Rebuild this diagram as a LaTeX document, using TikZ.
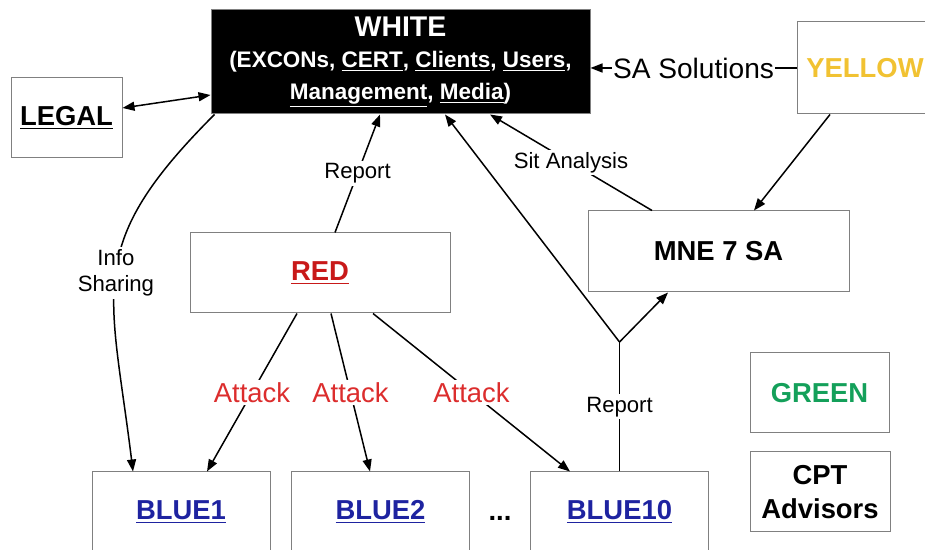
\documentclass[tikz,border=0pt]{standalone}
\usepackage{fontspec}
\setmainfont{Liberation Sans}
\usetikzlibrary{arrows.meta}

\begin{document}
\begin{tikzpicture}[
    box/.style={draw=r128g128b128, line width=0.02cm, inner sep=0pt, align=center,
                font=\fontsize{15.6}{19}\selectfont\bfseries},
    link/.style={line width=0.03cm, -{Triangle[length=0.24cm,width=0.18cm]}},
    tag/.style={fill=white, inner sep=0.05cm, align=center, font=\fontsize{12.6}{15}\selectfont},
    attack/.style={tag, text=r220g45b45, font=\fontsize{15.6}{18}\selectfont},
  ]
                    \useasboundingbox (0,0) rectangle (18.500000,11.000000);
                    \clip (0,0) rectangle (18.500000,11.000000);

                    % Changing colors
                    \definecolor{r128g128b128}{rgb}{0.501961,0.501961,0.501961}%
                    \definecolor{r220g45b45}{rgb}{0.862745,0.176471,0.176471}%
                    \definecolor{r200g25b25}{rgb}{0.784314,0.098039,0.098039}%
                    \definecolor{r241g194b50}{rgb}{0.945098,0.760784,0.196078}%
                    \definecolor{r30g35b160}{rgb}{0.117647,0.137255,0.627451}%
                    \definecolor{r20g160b90}{rgb}{0.078431,0.627451,0.352941}%

                    % Drawing box WHITE
                    \node [box, fill=black, text=white, minimum width=7.580000cm, minimum height=2.080000cm,
                           font=\fontsize{12.8}{18}\selectfont\bfseries] (white) at (8.010000,9.760000)
                          {{\fontsize{16.2}{18}\selectfont WHITE}\\
                           (EXCONs, \underline{CERT}, \underline{Clients}, \underline{Users},\\
                           \underline{Management}, \underline{Media})};%

                    % Drawing box LEGAL
                    \node [box, minimum width=2.220000cm, minimum height=1.600000cm] (legal) at (1.330000,8.640000) {\underline{LEGAL}};%

                    % Drawing box YELLOW
                    \node [box, text=r241g194b50, minimum width=2.720000cm, minimum height=1.840000cm] (yellow) at (17.300000,9.640000) {YELLOW};%

                    % Drawing box MNE 7 SA
                    \node [box, minimum width=5.220000cm, minimum height=1.620000cm] (mne) at (14.370000,5.970000) {MNE 7 SA};%

                    % Drawing box RED
                    \node [box, text=r200g25b25, minimum width=5.200000cm, minimum height=1.600000cm] (red) at (6.400000,5.540000) {\underline{RED}};%

                    % Drawing boxes BLUE
                    \node [box, text=r30g35b160, minimum width=3.560000cm, minimum height=1.600000cm] (blue1) at (3.620000,0.760000) {\underline{BLUE1}};%
                    \node [box, text=r30g35b160, minimum width=3.560000cm, minimum height=1.600000cm] (blue2) at (7.610000,0.760000) {\underline{BLUE2}};%
                    \node [box, text=r30g35b160, minimum width=3.560000cm, minimum height=1.600000cm] (blue10) at (12.390000,0.760000) {\underline{BLUE10}};%
                    \node [font=\fontsize{15.6}{18}\selectfont\bfseries] (dots) at (10.000000,0.640000) {...};%

                    % Drawing boxes GREEN and CPT
                    \node [box, text=r20g160b90, minimum width=2.780000cm, minimum height=1.600000cm] (green) at (16.390000,3.140000) {GREEN};%
                    \node [box, minimum width=2.800000cm, minimum height=1.600000cm] (cpt) at (16.400000,1.160000) {CPT\\Advisors};%

                    % Drawing line LEGAL WHITE
                    \draw [link, {Triangle[length=0.24cm,width=0.18cm]}-{Triangle[length=0.24cm,width=0.18cm]}]
                          ([yshift=0.200000cm]legal.east) -- ([yshift=-0.660000cm]white.west);%

                    % Drawing line YELLOW WHITE
                    \draw [link] (yellow.west) -- node [tag, inner sep=0.02cm, font=\fontsize{16}{18}\selectfont] {SA Solutions} (yellow.west -| white.east);%

                    % Drawing line YELLOW MNE
                    \draw [link] ([xshift=-0.700000cm]yellow.south) -- ([xshift=0.710000cm]mne.north);%

                    % Drawing line MNE WHITE
                    \draw [link] ([xshift=-1.330000cm]mne.north) -- node [tag] {Sit Analysis} ([xshift=1.790000cm]white.south);%

                    % Drawing line RED WHITE
                    \draw [link] ([xshift=0.300000cm]red.north) -- node [tag] {Report} ([xshift=-0.410000cm]white.south);%

                    % Drawing curve WHITE BLUE1
                    \draw [link] ([xshift=0.080000cm]white.south west) to [out=225, in=97, looseness=1.3]
                          node [tag] {Info\\Sharing} ([xshift=-0.960000cm]blue1.north);%

                    % Drawing lines RED BLUE
                    \draw [link] ([xshift=-0.460000cm]red.south) -- node [attack] {Attack} ([xshift=0.520000cm]blue1.north);%
                    \draw [link] ([xshift=0.220000cm]red.south) -- node [attack] {Attack} ([xshift=-0.210000cm]blue2.north);%
                    \draw [link] ([xshift=1.060000cm]red.south) -- node [attack] {Attack} ([xshift=-0.990000cm]blue10.north);%

                    % Drawing fork BLUE10 WHITE MNE
                    \coordinate (fork) at (12.390000,4.160000);%
                    \draw [line width=0.03cm] (blue10.north) -- node [tag] {Report} (fork);%
                    \draw [link] (fork) -- ([xshift=0.890000cm]white.south);%
                    \draw [link] (fork) -- ([xshift=-1.010000cm]mne.south);%
                    \end{tikzpicture}
\end{document}
